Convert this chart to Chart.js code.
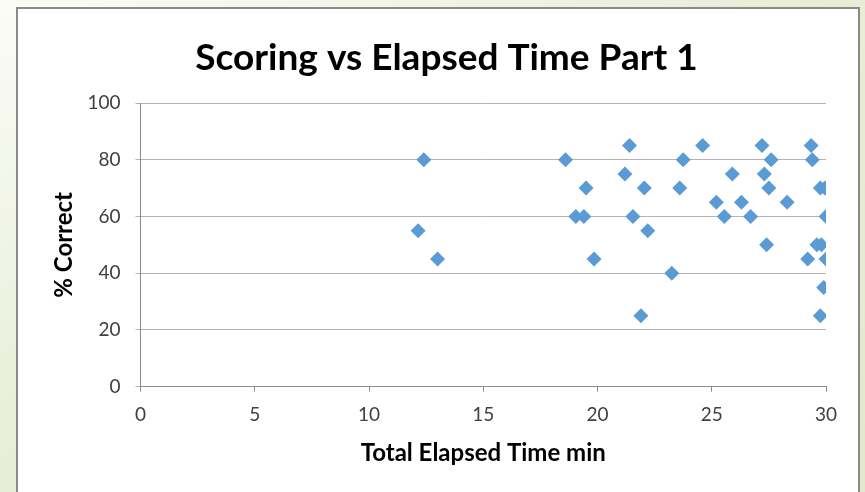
<!DOCTYPE html>
<html>
<head>
<meta charset="utf-8">
<script src="https://cdn.jsdelivr.net/npm/chart.js@4"></script>
<style>
  html, body { margin: 0; padding: 0; }
  body {
    width: 865px; height: 492px; overflow: hidden; position: relative;
    background: linear-gradient(to bottom right, #fbfcf7 0%, #e8eed8 45%, #e1e9cb 100%);
  }
  #box {
    position: absolute; left: 16px; top: 7px; width: 844px; height: 500px;
    background: #ffffff; border: 2px solid #8a8a8a; box-sizing: border-box;
  }
  #wrap { position: absolute; left: 0; top: 0; width: 865px; height: 492px; }
</style>
</head>
<body>
<div id="box"></div>
<div id="wrap"><canvas id="c"></canvas></div>
<script>
// Data
const chartTitle = 'Scoring vs Elapsed Time Part 1';
const xAxisTitle = 'Total Elapsed Time min';
const yAxisTitle = '% Correct';
const elapsedMin = [12.15, 12.4, 13.0, 18.6, 19.05, 19.4, 19.5, 19.85, 21.2, 21.4,
                    21.55, 21.9, 22.05, 22.2, 23.25, 23.6, 23.75, 24.6, 25.2, 25.55,
                    25.9, 26.3, 26.7, 27.2, 27.3, 27.4, 27.5, 27.6, 28.3, 29.2,
                    29.35, 29.4, 29.6, 29.75, 29.75, 29.8, 29.95, 29.9, 30.0, 30.0];
const pctCorrect = [55, 80, 45, 80, 60, 60, 70, 45, 75, 85,
                    60, 25, 70, 55, 40, 70, 80, 85, 65, 60,
                    75, 65, 60, 85, 75, 50, 70, 80, 65, 45,
                    85, 80, 50, 25, 70, 50, 70, 35, 45, 60];
const xTicks = [0, 5, 10, 15, 20, 25, 30];
const yTicks = [0, 20, 40, 60, 80, 100];

const points = elapsedMin.map((x, i) => ({ x: x, y: pctCorrect[i] }));

const titleShift = {
  id: 'titleShift',
  afterLayout(chart) {
    const t = chart.titleBlock;
    if (!t) return;
    const w = t.right - t.left;
    const c = 446.5;
    t.left = c - w / 2;
    t.right = c + w / 2;
  }
};

const tickColor = '#404040';
const gridColor = '#b3b3b3';
const axisColor = '#8c8c8c';

new Chart(document.getElementById('c'), {
  type: 'scatter',
  data: {
    datasets: [{
      data: points,
      pointStyle: 'rectRot',
      pointRadius: 7.5,
      pointHoverRadius: 7.5,
      backgroundColor: '#5b9bd5',
      borderColor: '#5b9bd5',
      borderWidth: 0
    }]
  },
  options: {
    responsive: true,
    maintainAspectRatio: false,
    animation: false,
    devicePixelRatio: 1,
    layout: { padding: { left: 0, right: 39, top: 0, bottom: 0 } },
    plugins: {
      legend: { display: false },
      tooltip: { enabled: false },
      title: {
        display: true,
        text: chartTitle,
        color: '#000000',
        font: { family: 'Lato', size: 37, weight: 'bold', lineHeight: 1.2 },
        padding: { top: 35.8, bottom: 22.8 }
      }
    },
    scales: {
      x: {
        type: 'linear',
        min: 0, max: 30,
        afterBuildTicks(scale) { scale.ticks = xTicks.map(v => ({ value: v })); },
        afterFit(scale) { scale.height = 105.3; },
        ticks: { color: tickColor, padding: 12, font: { family: 'Lato', size: 19 } },
        grid: { drawOnChartArea: false, drawTicks: true, tickLength: 5, color: axisColor },
        border: { display: true, color: axisColor },
        title: {
          display: true, text: xAxisTitle, color: '#000000',
          font: { family: 'Lato', size: 24, weight: 'bold', lineHeight: 1.2 },
          padding: { top: 0, bottom: 24.6 }
        }
      },
      y: {
        type: 'linear',
        min: 0, max: 100,
        afterBuildTicks(scale) { scale.ticks = yTicks.map(v => ({ value: v })); },
        afterFit(scale) { scale.width = 140.5; },
        ticks: { color: tickColor, padding: 15, font: { family: 'Lato', size: 19 } },
        grid: { drawOnChartArea: true, drawTicks: true, tickLength: 5, color: gridColor },
        border: { display: true, color: axisColor },
        title: {
          display: true, text: yAxisTitle, color: '#000000',
          font: { family: 'Lato', size: 24, weight: 'bold', lineHeight: 1.2 },
          padding: { top: 49.6, bottom: 0 }
        }
      }
    }
  },
  plugins: [titleShift]
});
</script>
</body>
</html>
